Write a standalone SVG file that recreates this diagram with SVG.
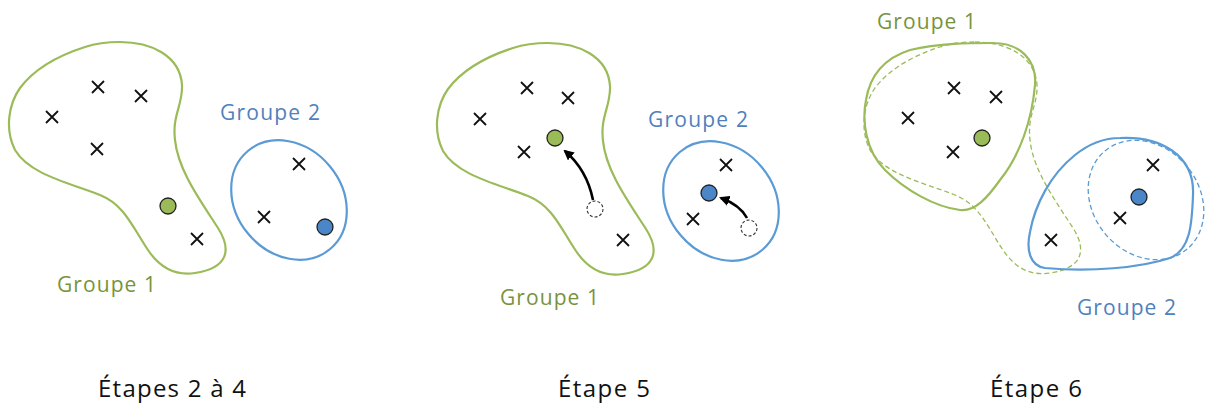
<svg xmlns="http://www.w3.org/2000/svg" width="1208" height="407" viewBox="0 0 1208 407">
<style>
.g{fill:none;stroke:#9BBB59;stroke-width:2.2}
.b{fill:none;stroke:#5B9BD5;stroke-width:2.2}
.gd{fill:none;stroke:#9BBB59;stroke-width:1.3;stroke-dasharray:5 3}
.bd{fill:none;stroke:#5B9BD5;stroke-width:1.3;stroke-dasharray:5 3}
.x{stroke:#111;stroke-width:1.8;fill:none}
.cg{fill:#9BBB59;stroke:#222;stroke-width:1.3}
.cb{fill:#4A86C8;stroke:#222;stroke-width:1.3}
.old{fill:#fff;stroke:#333;stroke-width:1.1;stroke-dasharray:3 2}
.arr{fill:none;stroke:#000;stroke-width:2.6}
.tg{font-family:'Open Sans','Liberation Sans',sans-serif;font-size:21px;fill:#77933C}
.tb{font-family:'Open Sans','Liberation Sans',sans-serif;font-size:21px;fill:#4F81BD}
.tk{font-family:'Open Sans','Liberation Sans',sans-serif;font-size:24px;fill:#111}
</style>
<defs>
<path id="blob1" d="M 120,42 C 150,42 180,55 182,85 C 183,105 172,115 175,140 C 178,170 200,200 218,228 C 232,250 228,268 195,273 C 175,276 160,268 148,250 C 133,228 125,205 100,195 C 70,183 30,175 15,150 C 5,130 8,105 20,88 C 35,68 60,55 85,47 C 97,43 110,42 120,42 Z"/>
<ellipse id="ell1" cx="0" cy="0" rx="64" ry="53"/>
<path id="xm" d="M -6,-6 L 6,6 M 6,-6 L -6,6"/>
<marker id="ah" viewBox="0 0 10 10" refX="8" refY="5" markerWidth="4" markerHeight="4" orient="auto" markerUnits="strokeWidth">
<path d="M0,0 L10,5 L0,10 Z" fill="#000"/>
</marker>
</defs>

<g id="panel1">
<g id="p1-groupe1"><use href="#blob1" class="g"/></g>
<g id="p1-groupe2"><use href="#ell1" class="b" transform="translate(289,200) rotate(50)"/></g>
<g id="p1-points" class="x">
<use href="#xm" x="52" y="117"/><use href="#xm" x="98" y="87"/><use href="#xm" x="141" y="96"/><use href="#xm" x="97" y="149"/><use href="#xm" x="197" y="239"/>
<use href="#xm" x="299" y="164"/><use href="#xm" x="264" y="217"/>
</g>
<g id="p1-c1"><circle cx="168" cy="206" r="8" class="cg"/></g>
<g id="p1-c2"><circle cx="325" cy="227" r="8" class="cb"/></g>
<text class="tb" x="220" y="120" textLength="100">Groupe 2</text>
<text class="tg" x="57" y="292" textLength="99">Groupe 1</text>
</g>

<g id="panel2">
<g id="p2-groupe1"><use href="#blob1" class="g" transform="translate(428,1)"/></g>
<g id="p2-groupe2"><use href="#ell1" class="b" transform="translate(721,201) rotate(50)"/></g>
<g id="p2-points" class="x">
<use href="#xm" x="480" y="119"/><use href="#xm" x="527" y="88"/><use href="#xm" x="568" y="98"/><use href="#xm" x="524" y="152"/><use href="#xm" x="623" y="240"/>
<use href="#xm" x="726" y="165"/><use href="#xm" x="693" y="219"/>
</g>
<g id="p2-old1"><circle cx="595" cy="209" r="8" class="old"/></g>
<g id="p2-old2"><circle cx="749" cy="228" r="8" class="old"/></g>
<g id="p2-c1"><circle cx="555" cy="138" r="8" class="cg"/></g>
<g id="p2-c2"><circle cx="709" cy="193" r="8" class="cb"/></g>
<text class="tb" x="648" y="127" textLength="100">Groupe 2</text>
<text class="tg" x="500" y="305" textLength="99">Groupe 1</text>
</g>

<g id="connectors">
<path class="arr" d="M 593,200 Q 587,170 565,151" marker-end="url(#ah)"/>
<path class="arr" d="M 747,218 Q 740,205 721,198" marker-end="url(#ah)"/>
</g>

<g id="panel3">
<g id="p3-old1"><use href="#blob1" class="gd" transform="translate(855,0)"/></g>
<g id="p3-old2"><use href="#ell1" class="bd" transform="translate(1146,200) rotate(50)"/></g>
<g id="p3-groupe1"><path class="g" d="M 993,43 C 1020,43 1037,60 1035,85 C 1032,120 1020,155 1000,180 C 988,197 975,212 960,210 C 935,207 905,190 885,170 C 865,150 862,120 866,100 C 870,75 885,58 910,50 C 940,43 970,43 993,43 Z"/></g>
<g id="p3-groupe2"><path class="b" d="M 1120,138 C 1160,136 1195,155 1193,195 C 1192,225 1190,250 1170,258 C 1140,268 1090,272 1045,268 C 1030,266 1026,250 1030,232 C 1035,205 1050,175 1075,155 C 1090,143 1105,138 1120,138 Z"/></g>
<g id="p3-points" class="x">
<use href="#xm" x="908" y="118"/><use href="#xm" x="954" y="88"/><use href="#xm" x="996" y="97"/><use href="#xm" x="953" y="152"/><use href="#xm" x="1051" y="240"/>
<use href="#xm" x="1153" y="165"/><use href="#xm" x="1120" y="218"/>
</g>
<g id="p3-c1"><circle cx="982" cy="138" r="8" class="cg"/></g>
<g id="p3-c2"><circle cx="1139" cy="197" r="8" class="cb"/></g>
<text class="tg" x="877" y="29" textLength="99">Groupe 1</text>
<text class="tb" x="1077" y="315" textLength="99">Groupe 2</text>
</g>

<text class="tk" x="98" y="397" textLength="148">Étapes 2 à 4</text>
<text class="tk" x="558" y="397" textLength="92">Étape 5</text>
<text class="tk" x="990" y="397" textLength="92">Étape 6</text>
</svg>
